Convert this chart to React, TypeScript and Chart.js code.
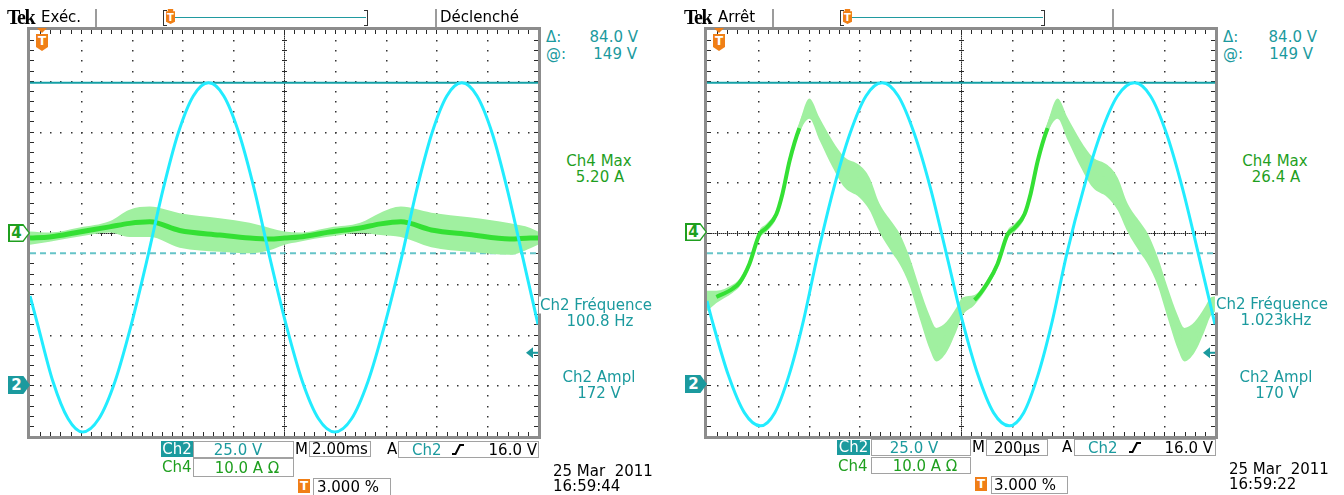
import React, { useEffect, useRef } from 'react';
import { Chart, registerables } from 'chart.js';
Chart.register(...registerables);

// ---------------- data ----------------
// Left scope: 2.00 ms/div, Ch2 25 V/div, Ch4 10 A/div
const leftTimeMs = [0, 0.3, 0.9, 1.5, 2.07, 2.71, 3.35, 3.99, 4.63, 5.23, 5.83, 6.43, 7.03, 7.63, 8.23, 8.84, 9.44, 10.08, 10.72, 11.36, 12.0, 12.66, 13.31, 13.97, 14.63, 15.22, 15.82, 16.41, 17.0, 17.6, 18.2, 18.8, 19.4, 20];
const leftCh2Volts = [44, 30, 2, -16.5, -23, -16.5, 2, 30, 63, 96, 124, 142.5, 149, 142.5, 124, 96, 63, 30, 2, -16.5, -23, -16.5, 2, 30, 63, 96, 124, 142.5, 149, 142.5, 124, 96, 63, 30];
const leftCh4TimeMs = [0, 0.77, 1.95, 3.13, 3.92, 4.71, 5.89, 7.47, 8.65, 9.44, 10.03, 10.6, 11.8, 13.0, 13.8, 14.6, 15.8, 17.3, 18.9, 19.7, 20];
const leftCh4Amps = [-1.0, -0.8, 0.2, 1.2, 1.9, 2.2, 0.5, -0.4, -1.0, -1.2, -1.0, -0.8, 0.2, 1.0, 1.8, 2.2, 0.6, -0.3, -1.2, -1.0, -1.0];
const leftCh4Spread = [1.3, 0.9, 0.9, 1.1, 2.7, 3.0, 3.4, 3.3, 3.0, 2.2, 1.3, 0.9, 0.9, 1.0, 2.2, 3.0, 3.4, 3.4, 3.1, 2.0, 1.3];

// Right scope: 200 µs/div
const rightTimeUs = [0, 20, 84, 147, 210, 267, 323, 380, 436, 499, 563, 626, 689, 753, 816, 880, 943, 1005, 1067, 1128, 1190, 1247, 1303, 1360, 1416, 1483, 1550, 1616, 1683, 1746, 1809, 1872, 1935, 2000];
const rightCh2Volts = [41.5, 32, 5, -13.5, -20, -13.5, 5, 32, 64.5, 97, 124, 142.5, 149, 142.5, 124, 97, 64.5, 32, 5, -13.5, -20, -13.5, 5, 32, 64.5, 97, 124, 142.5, 149, 142.5, 124, 97, 64.5, 30];
const rightCh4TimeUs = [0, 37, 100, 128, 167, 207, 234, 273, 297, 325, 364, 403, 443, 494, 541, 600, 640, 679, 730, 758, 797, 837, 876, 903, 943, 982, 1006, 1053, 1105, 1144, 1184, 1211, 1250, 1274, 1302, 1341, 1380, 1420, 1471, 1518, 1577, 1617, 1656, 1707, 1735, 1774, 1814, 1853, 1880, 1920, 1959, 1983, 2000];
const rightCh4Amps = [-13.4, -12.6, -11.0, -9.8, -6.1, -0.2, 1.0, 3.7, 7.7, 14.2, 20.7, 24.5, 20.5, 15.6, 12.0, 10.2, 7.7, 3.0, -1.0, -3.1, -7.5, -13.8, -19.5, -22, -20.5, -17, -14.5, -13.2, -9.8, -6.1, -0.2, 1.0, 3.7, 7.7, 14.2, 20.7, 24.5, 20.5, 15.6, 12.0, 10.2, 7.7, 3.0, -1.0, -3.1, -7.5, -13.8, -19.5, -22, -20.5, -17, -14.5, -14.0];
const rightCh4Spread = [2.0, 1.2, 0.8, 0.8, 0.8, 0.8, 0.8, 0.8, 0.8, 0.8, 1.0, 2.0, 2.2, 2.6, 3.0, 3.2, 3.2, 2.8, 3.0, 3.0, 2.8, 3.0, 3.3, 3.3, 3.0, 2.3, 1.8, 1.0, 0.8, 0.8, 0.8, 0.8, 0.8, 0.8, 0.8, 1.0, 2.0, 2.2, 2.6, 3.0, 3.2, 3.2, 2.8, 3.0, 3.0, 2.8, 3.0, 3.3, 3.3, 3.0, 2.3, 1.8, 1.5];

const cursorVolts = [149, 65]; // Δ 84.0 V, @ 149 V
const triggerVolts = 16;
const ch2Range = [-25, 175]; // 25 V/div, ground 3 div below centre
const ch4Range = [-40, 40]; // 10 A/div

// ---------------- styling ----------------
const TEAL = '#1b9a9e';
const GREEN = '#1f9f1f';
const CYAN = '#22ecff';
const BAND = '#a0f0a0';
const CORE = '#34e034';
const FONT = '"DejaVu Sans", sans-serif';

const graticule = {
  id: 'graticule',
  beforeDatasetsDraw(chart: any) {
    const { ctx, chartArea: a } = chart;
    const dw = (a.right - a.left) / 10;
    const dh = (a.bottom - a.top) / 8;
    ctx.save();
    ctx.fillStyle = '#333';
    for (let k = 1; k < 10; k++) {
      if (k === 5) continue;
      const x = Math.round(a.left + k * dw);
      for (let j = 1; j < 40; j++) ctx.fillRect(x, Math.round(a.top + (j * dh) / 5), 1.5, 1.5);
    }
    for (let k = 1; k < 8; k++) {
      if (k === 4) continue;
      const y = Math.round(a.top + k * dh);
      for (let j = 1; j < 50; j++) ctx.fillRect(Math.round(a.left + (j * dw) / 5), y, 1.5, 1.5);
    }
    const cx = Math.round(a.left + 5 * dw);
    const cy = Math.round(a.top + 4 * dh);
    ctx.fillStyle = '#8a8a8a';
    ctx.fillRect(cx, a.top, 1, a.bottom - a.top);
    ctx.fillRect(a.left, cy, a.right - a.left, 1);
    ctx.fillStyle = '#2a2a2a';
    for (let y = a.top; y < a.bottom; y += 2) ctx.fillRect(cx, Math.round(y), 1, 1);
    for (let x = a.left; x < a.right; x += 2) ctx.fillRect(Math.round(x), cy, 1, 1);
    for (let j = 1; j < 50; j++) {
      const x = Math.round(a.left + (j * dw) / 5);
      ctx.fillRect(x, cy - 2, 1, 5);
      ctx.fillRect(x, a.top, 1, 4);
      ctx.fillRect(x, a.bottom - 4, 1, 4);
    }
    for (let j = 1; j < 40; j++) {
      const y = Math.round(a.top + (j * dh) / 5);
      ctx.fillRect(cx - 2, y, 5, 1);
      ctx.fillRect(a.left, y, 4, 1);
      ctx.fillRect(a.right - 4, y, 4, 1);
    }
    ctx.restore();
  },
  afterDraw(chart: any) {
    const { ctx, chartArea: a } = chart;
    ctx.save();
    ctx.strokeStyle = '#8c8c8c';
    ctx.lineWidth = 3;
    ctx.strokeRect(a.left - 1.5, a.top - 1.5, a.right - a.left + 3, a.bottom - a.top + 3);
    const trig = chart.options.plugins.graticule.trigger;
    const y = chart.scales.yV.getPixelForValue(trig);
    ctx.fillStyle = TEAL;
    ctx.beginPath();
    ctx.moveTo(a.right - 12, y);
    ctx.lineTo(a.right - 5, y - 5.5);
    ctx.lineTo(a.right - 5, y + 5.5);
    ctx.closePath();
    ctx.fill();
    ctx.fillRect(a.right - 6, y - 1, 6, 2);
    ctx.restore();
  },
};

function pts(xs: number[], ys: number[]) {
  return xs.map((x, i) => ({ x, y: ys[i] }));
}
function edge(xs: number[], c: number[], s: number[], sign: number) {
  return xs.map((x, i) => ({ x, y: c[i] + sign * s[i] }));
}

function makeConfig(xMax: number, t2: number[], v2: number[], t4: number[], a4: number[], s4: number[], splitCore: boolean): any {
  return {
    type: 'line',
    data: {
      datasets: [
        { data: pts(t2, v2), yAxisID: 'yV', borderColor: CYAN, borderWidth: 3, cubicInterpolationMode: 'monotone', order: 0 },
        {
          data: pts(t4, a4), yAxisID: 'yA', borderColor: CORE, borderWidth: splitCore ? 4 : 5, cubicInterpolationMode: 'monotone', order: 1,
          segment: splitCore
            ? { borderColor: (c: any) => (s4[c.p0DataIndex] > 1.2 || s4[c.p1DataIndex] > 1.2 ? BAND : CORE) }
            : undefined,
        },
        { data: edge(t4, a4, s4, 1), yAxisID: 'yA', borderWidth: 0, borderColor: 'rgba(0,0,0,0)', backgroundColor: BAND, fill: '+1', cubicInterpolationMode: 'monotone', order: 2 },
        { data: edge(t4, a4, s4, -1), yAxisID: 'yA', borderWidth: 0, borderColor: 'rgba(0,0,0,0)', fill: false, cubicInterpolationMode: 'monotone', order: 3 },
        { data: [{ x: 0, y: cursorVolts[0] }, { x: xMax, y: cursorVolts[0] }], yAxisID: 'yV', borderColor: '#14a0a6', borderWidth: 2, order: 4 },
        { data: [{ x: 0, y: cursorVolts[1] }, { x: xMax, y: cursorVolts[1] }], yAxisID: 'yV', borderColor: '#66c4c8', borderWidth: 2, borderDash: [6, 4], order: 5 },
      ],
    },
    options: {
      responsive: false,
      maintainAspectRatio: false,
      devicePixelRatio: 1,
      animation: false,
      layout: { padding: 6 },
      elements: { point: { radius: 0, hoverRadius: 0 } },
      scales: {
        x: { type: 'linear', min: 0, max: xMax, display: false },
        yV: { type: 'linear', min: ch2Range[0], max: ch2Range[1], display: false },
        yA: { type: 'linear', min: ch4Range[0], max: ch4Range[1], display: false },
      },
      plugins: { legend: { display: false }, tooltip: { enabled: false }, graticule: { trigger: triggerVolts } },
    },
    plugins: [graticule],
  };
}

function Scope({ left, cfg }: { left: number; cfg: any }) {
  const ref = useRef<HTMLCanvasElement>(null);
  useEffect(() => {
    const chart = new Chart(ref.current as HTMLCanvasElement, cfg);
    return () => chart.destroy();
  }, []);
  return <canvas ref={ref} width={520} height={418} style={{ position: 'absolute', left, top: 24, width: 520, height: 418 }} />;
}

function Txt({ x, y, children, color = '#000', align = 'left', size = 15, bg }: any) {
  const tx = align === 'center' ? '-50%' : align === 'right' ? '-100%' : '0';
  return (
    <div style={{ position: 'absolute', left: x, top: y, transform: `translate(${tx}, -50%)`, whiteSpace: 'pre', fontFamily: FONT, fontSize: size, color, lineHeight: 1, background: bg, padding: bg ? '1px 1px' : 0 }}>
      {children}
    </div>
  );
}

function Box({ x, y, w, h }: any) {
  return <div style={{ position: 'absolute', left: x, top: y, width: w, height: h, boxSizing: 'border-box', border: '1px solid #a2a2a2', background: '#fff' }} />;
}

function Hl({ x, y, w, h, text }: any) {
  return (
    <div style={{ position: 'absolute', left: x, top: y, width: w, height: h, background: TEAL, color: '#fff', fontFamily: FONT, fontSize: 15, lineHeight: `${h}px`, textAlign: 'center' }}>{text}</div>
  );
}

function ChMarker({ x, y, label, color, filled }: any) {
  const clip = 'polygon(0 0, 70% 0, 100% 50%, 70% 100%, 0 100%)';
  return (
    <div style={{ position: 'absolute', left: x, top: y, width: 22, height: 18, background: color, clipPath: clip }}>
      {!filled && <div style={{ position: 'absolute', left: 1.5, top: 1.5, width: 19, height: 15, background: '#fff', clipPath: clip }} />}
      <div style={{ position: 'absolute', left: 2, top: 0, width: 13, textAlign: 'center', lineHeight: '18px', fontFamily: FONT, fontSize: 15, fontWeight: 700, color: filled ? '#fff' : color }}>{label}</div>
    </div>
  );
}

function TScreen({ x, y }: any) {
  return (
    <>
      <div style={{ position: 'absolute', left: x + 1, top: y, width: 0, height: 0, borderLeft: '5px solid transparent', borderRight: '5px solid transparent', borderTop: '5px solid #f07f16' }} />
      <div style={{ position: 'absolute', left: x, top: y + 6, width: 12, height: 17, background: '#f07f16', clipPath: 'polygon(0 0,100% 0,100% 76%,50% 100%,0 76%)', color: '#fff', fontFamily: FONT, fontWeight: 700, fontSize: 12, textAlign: 'center', lineHeight: '14px' }}>T</div>
    </>
  );
}

function TSmall({ x, y }: any) {
  return (
    <div style={{ position: 'absolute', left: x, top: y, width: 9, height: 15, background: '#f07f16', clipPath: 'polygon(20% 0,80% 0,80% 15%,100% 15%,100% 85%,50% 100%,0 85%,0 15%,20% 15%)', color: '#fff', fontFamily: FONT, fontWeight: 700, fontSize: 10, textAlign: 'center', lineHeight: '17px' }}>T</div>
  );
}

function TBox({ x, y }: any) {
  return <div style={{ position: 'absolute', left: x, top: y, width: 12, height: 14, background: '#f07f16', color: '#fff', fontFamily: FONT, fontWeight: 700, fontSize: 12, textAlign: 'center', lineHeight: '14px' }}>T</div>;
}

function Edge({ x, y }: any) {
  return (
    <svg style={{ position: 'absolute', left: x, top: y }} width={12} height={13}>
      <polyline points="0,11 3.5,11 8,2 12,2" fill="none" stroke="#000" strokeWidth={2} />
    </svg>
  );
}

function Header({ dx, status, right }: any) {
  return (
    <>
      <div style={{ position: 'absolute', left: 7 + dx, top: 17, transform: 'translateY(-50%)', fontFamily: '"Liberation Serif", serif', fontWeight: 700, fontSize: 20, letterSpacing: -1.5, lineHeight: 1 }}>Tek</div>
      <Txt x={41 + dx} y={17} size={15}>{status}</Txt>
      <div style={{ position: 'absolute', left: 95 + dx, top: 9, width: 1.5, height: 18, background: '#9c9c9c' }} />
      <div style={{ position: 'absolute', left: 435 + dx, top: 9, width: 1.5, height: 18, background: '#9c9c9c' }} />
      <div style={{ position: 'absolute', left: 163 + dx, top: 10, width: 3, height: 14, borderLeft: '1px solid #333', borderTop: '1px solid #333', borderBottom: '1px solid #333' }} />
      <div style={{ position: 'absolute', left: 364 + dx, top: 10, width: 3, height: 14, borderRight: '1px solid #333', borderTop: '1px solid #333', borderBottom: '1px solid #333' }} />
      <div style={{ position: 'absolute', left: 166 + dx, top: 16.5, width: 200, height: 1.5, background: '#209aa0' }} />
      <TSmall x={166 + dx} y={9} />
      {right && <Txt x={440 + dx} y={17} size={15}>{right}</Txt>}
    </>
  );
}

export default function App() {
  const leftCfg = makeConfig(20, leftTimeMs, leftCh2Volts, leftCh4TimeMs, leftCh4Amps, leftCh4Spread, false);
  const rightCfg = makeConfig(2000, rightTimeUs, rightCh2Volts, rightCh4TimeUs, rightCh4Amps, rightCh4Spread, true);
  return (
    <div style={{ position: 'absolute', left: 0, top: 0, width: 1344, height: 495, background: '#fff', overflow: 'hidden' }}>
      <Scope left={24} cfg={leftCfg} />
      <Scope left={701} cfg={rightCfg} />

      {/* ---------- left scope ---------- */}
      <Header dx={0} status="Exéc." right="Déclenché" />
      <TScreen x={36} y={28} />
      <ChMarker x={8} y={224} label="4" color={GREEN} filled={false} />
      <ChMarker x={8} y={376} label="2" color={TEAL} filled />
      <Txt x={546} y={37} color={TEAL}>Δ:</Txt>
      <Txt x={638} y={37} color={TEAL} align="right">84.0 V</Txt>
      <Txt x={546} y={54} color={TEAL}>@:</Txt>
      <Txt x={637} y={54} color={TEAL} align="right">149 V</Txt>
      <Txt x={599} y={161} color={GREEN} align="center">Ch4 Max</Txt>
      <Txt x={600} y={177} color={GREEN} align="center">5.20 A</Txt>
      <Txt x={596} y={305} color={TEAL} align="center" bg="#fff">Ch2 Fréquence</Txt>
      <Txt x={600} y={321} color={TEAL} align="center">100.8 Hz</Txt>
      <Txt x={599} y={377} color={TEAL} align="center">Ch2 Ampl</Txt>
      <Txt x={599} y={393} color={TEAL} align="center">172 V</Txt>

      <Hl x={161} y={441} w={32} h={16} text="Ch2" />
      <Box x={193} y={441} w={101} h={17} />
      <Txt x={238} y={449.5} color={TEAL} align="center">25.0 V</Txt>
      <Txt x={162} y={467} color={GREEN}>Ch4</Txt>
      <Box x={193} y={458} w={101} h={19} />
      <Txt x={247} y={467.5} color={GREEN} align="center">10.0 A Ω</Txt>
      <Txt x={295} y={449}>M</Txt>
      <Box x={309} y={441} w={62} h={16} />
      <Txt x={340} y={449} align="center">2.00ms</Txt>
      <Txt x={387} y={449}>A</Txt>
      <Box x={398} y={441} w={141} h={17} />
      <Txt x={412} y={449.5} color={TEAL}>Ch2</Txt>
      <Edge x={452} y={443} />
      <Txt x={537} y={449.5} align="right">16.0 V</Txt>
      <TBox x={298} y={479} />
      <Box x={313} y={478} w={78} h={18} />
      <Txt x={317} y={487}>3.000 %</Txt>
      <Txt x={553} y={471}>{'25 Mar  2011'}</Txt>
      <Txt x={553} y={486}>16:59:44</Txt>

      {/* ---------- right scope ---------- */}
      <Header dx={677} status="Arrêt" />
      <TScreen x={713} y={28} />
      <ChMarker x={685} y={223} label="4" color={GREEN} filled={false} />
      <ChMarker x={685} y={375} label="2" color={TEAL} filled />
      <Txt x={1223} y={37} color={TEAL}>Δ:</Txt>
      <Txt x={1317} y={37} color={TEAL} align="right">84.0 V</Txt>
      <Txt x={1223} y={54} color={TEAL}>@:</Txt>
      <Txt x={1313} y={54} color={TEAL} align="right">149 V</Txt>
      <Txt x={1275} y={161} color={GREEN} align="center">Ch4 Max</Txt>
      <Txt x={1276} y={177} color={GREEN} align="center">26.4 A</Txt>
      <Txt x={1272} y={304} color={TEAL} align="center" bg="#fff">Ch2 Fréquence</Txt>
      <Txt x={1276} y={320} color={TEAL} align="center">1.023kHz</Txt>
      <Txt x={1276} y={377} color={TEAL} align="center">Ch2 Ampl</Txt>
      <Txt x={1277} y={393} color={TEAL} align="center">170 V</Txt>

      <Hl x={837} y={440} w={33} h={15} text="Ch2" />
      <Box x={871} y={439} w={100} h={17} />
      <Txt x={914} y={447.5} color={TEAL} align="center">25.0 V</Txt>
      <Txt x={838} y={466} color={GREEN}>Ch4</Txt>
      <Box x={871} y={457} w={100} h={17} />
      <Txt x={925} y={466} color={GREEN} align="center">10.0 A Ω</Txt>
      <Txt x={972} y={447}>M</Txt>
      <Box x={986} y={439} w={62} h={17} />
      <Txt x={1017} y={447.5} align="center">200µs</Txt>
      <Txt x={1062} y={447}>A</Txt>
      <Box x={1074} y={439} w={142} h={17} />
      <Txt x={1088} y={447.5} color={TEAL}>Ch2</Txt>
      <Edge x={1129} y={441} />
      <Txt x={1213} y={447.5} align="right">16.0 V</Txt>
      <TBox x={975} y={477} />
      <Box x={991} y={476} w={77} h={18} />
      <Txt x={994} y={485}>3.000 %</Txt>
      <Txt x={1229} y={469}>{'25 Mar  2011'}</Txt>
      <Txt x={1229} y={484}>16:59:22</Txt>
    </div>
  );
}
